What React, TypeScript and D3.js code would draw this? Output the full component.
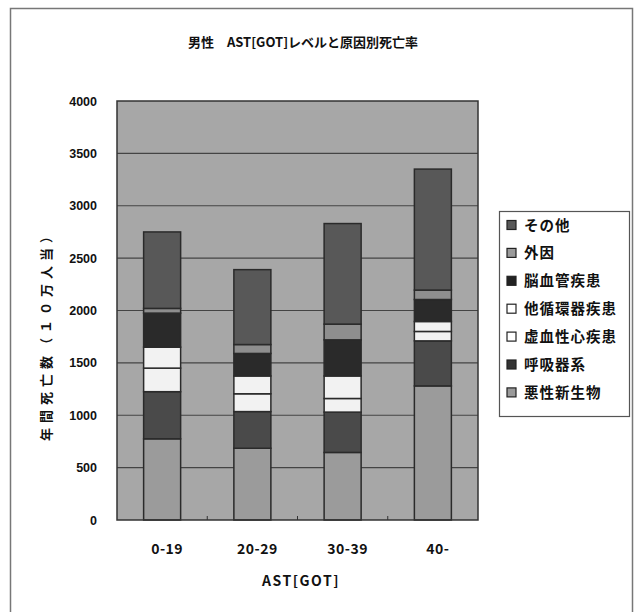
import React from "react";
import * as d3 from "d3";

// AST[GOT] groups and death counts per 100,000 by cause (stacked bottom to top)
const categories = ["0-19", "20-29", "30-39", "40-"];
const malignant = [775, 685, 645, 1280]; // 悪性新生物
const respiratory = [450, 350, 385, 430]; // 呼吸器系
const ischemic = [225, 170, 130, 90]; // 虚血性心疾患
const otherCirc = [200, 170, 215, 95]; // 他循環器疾患
const cerebro = [325, 215, 345, 210]; // 脳血管疾患
const external = [45, 85, 150, 90]; // 外因
const others = [730, 715, 960, 1155]; // その他

const seriesNames = ["悪性新生物", "呼吸器系", "虚血性心疾患", "他循環器疾患", "脳血管疾患", "外因", "その他"];
const seriesValues = [malignant, respiratory, ischemic, otherCirc, cerebro, external, others];
const seriesColors = ["#9b9b9b", "#4a4a4a", "#f2f2f2", "#f2f2f2", "#2a2a2a", "#8e8e8e", "#585858"];
const legendSwatch = ["#9a9a9a", "#333", "#fff", "#fff", "#222", "#9a9a9a", "#585858"];
const yTicks = [0, 500, 1000, 1500, 2000, 2500, 3000, 3500, 4000];

const W = 639;
const H = 612;
const plot = { left: 117, right: 478, top: 101, bottom: 520 };

const jp = "'Noto Sans CJK JP', 'Noto Sans', sans-serif";
const num = "'Liberation Sans', Arial, sans-serif";

export default function App() {
  const x = d3
    .scaleBand<string>()
    .domain(categories)
    .range([plot.left, plot.right])
    .paddingInner(0.59)
    .paddingOuter(0.295);
  const y = d3.scaleLinear().domain([0, 4000]).range([plot.bottom, plot.top]);

  const rows = categories.map((c, i) => {
    const r: Record<string, number | string> = { cat: c };
    seriesNames.forEach((n, k) => (r[n] = seriesValues[k][i]));
    return r;
  });
  const stacked = d3.stack<Record<string, number | string>>().keys(seriesNames)(rows as any);

  const step = x.step();
  const legendOrder = d3.range(seriesNames.length).reverse();

  return (
    <svg
      width={W}
      height={H}
      style={{ position: "absolute", left: 0, top: 0, background: "#fff" }}
    >
      {/* outer frame */}
      <rect x={10.5} y={8.5} width={622} height={620} fill="none" stroke="#777" strokeWidth={1.5} />

      <text
        x={303}
        y={47}
        textAnchor="middle"
        fontFamily={jp}
        fontWeight="bold"
        fontSize={13}
        fill="#111"
        style={{ whiteSpace: "pre" }}
      >
        {"男性\u3000AST[GOT]レベルと原因別死亡率"}
      </text>

      {/* plot area */}
      <rect
        x={plot.left}
        y={plot.top}
        width={plot.right - plot.left}
        height={plot.bottom - plot.top}
        fill="#a7a7a7"
      />
      {yTicks.slice(1, -1).map((t) => (
        <line
          key={t}
          x1={plot.left}
          x2={plot.right}
          y1={y(t)}
          y2={y(t)}
          stroke="#444"
          strokeWidth={1.2}
        />
      ))}

      {stacked.map((s, k) => (
        <g key={seriesNames[k]}>
          {s.map((d, i) => (
            <rect
              key={i}
              x={x(categories[i])!}
              y={y(d[1])}
              width={x.bandwidth()}
              height={y(d[0]) - y(d[1])}
              fill={seriesColors[k]}
              stroke="#2a2a2a"
              strokeWidth={1.5}
            />
          ))}
        </g>
      ))}

      <rect
        x={plot.left}
        y={plot.top}
        width={plot.right - plot.left}
        height={plot.bottom - plot.top}
        fill="none"
        stroke="#333"
        strokeWidth={1.5}
      />
      {categories.slice(1).map((c) => (
        <line
          key={c}
          x1={x(c)! - (step - x.bandwidth()) / 2}
          x2={x(c)! - (step - x.bandwidth()) / 2}
          y1={plot.bottom}
          y2={plot.bottom - 4}
          stroke="#333"
          strokeWidth={1}
        />
      ))}

      {yTicks.map((t) => (
        <text
          key={t}
          x={97}
          y={y(t) + 4.5}
          textAnchor="end"
          fontFamily={num}
          fontWeight="bold"
          fontSize={12.5}
          fill="#111"
        >
          {t}
        </text>
      ))}

      <text
        transform={`translate(51,333) rotate(-90)`}
        textAnchor="middle"
        fontFamily={jp}
        fontWeight="bold"
        fontSize={13}
        letterSpacing={5}
        fill="#111"
      >
        年間死亡数（１０万人当）
      </text>

      {categories.map((c) => (
        <text
          key={c}
          x={x(c)! + x.bandwidth() / 2 + 5}
          y={554}
          textAnchor="middle"
          fontFamily={jp}
          fontWeight="bold"
          fontSize={14}
          letterSpacing={0.5}
          fill="#111"
        >
          {c}
        </text>
      ))}
      <text
        x={301}
        y={586}
        textAnchor="middle"
        fontFamily={jp}
        fontWeight="bold"
        fontSize={14}
        letterSpacing={1.5}
        fill="#111"
      >
        AST[GOT]
      </text>

      {/* legend */}
      <rect x={499.5} y={211.5} width={130} height={205} fill="#fff" stroke="#555" strokeWidth={1.2} />
      {legendOrder.map((k, i) => (
        <g key={seriesNames[k]} transform={`translate(0,${225 + i * 27.9})`}>
          <rect
            x={507}
            y={-4.5}
            width={9}
            height={9}
            fill={legendSwatch[k]}
            stroke="#222"
            strokeWidth={1.2}
          />
          <text
            x={524}
            y={5.5}
            fontFamily={jp}
            fontWeight="bold"
            fontSize={14.5}
            letterSpacing={1}
            fill="#111"
          >
            {seriesNames[k]}
          </text>
        </g>
      ))}
    </svg>
  );
}
